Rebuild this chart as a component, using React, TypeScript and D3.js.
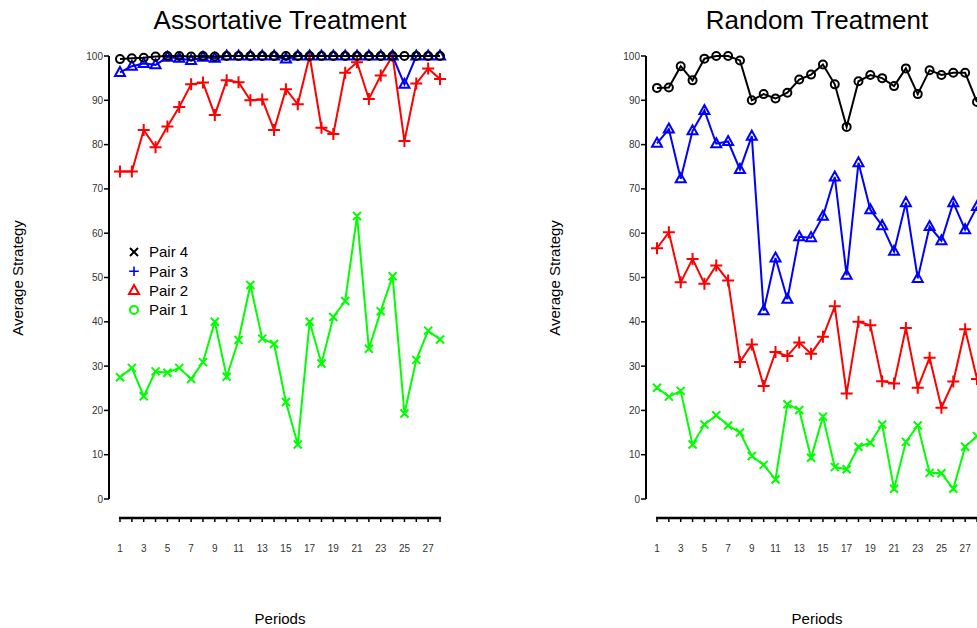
import React from "react";
import * as d3 from "d3";

// periods 1..28
const periods = d3.range(1, 29);
const xTickLabels = [1, 3, 5, 7, 9, 11, 13, 15, 17, 19, 21, 23, 25, 27];
const yTicks = [0, 10, 20, 30, 40, 50, 60, 70, 80, 90, 100];

// Assortative treatment
const assortPair4 = [99.3, 99.5, 99.6, 99.9, 100, 100, 99.9, 100, 99.9, 100, 100, 100, 100, 100, 100, 100, 100, 100, 100, 100, 100, 100, 100, 100, 100, 100, 100, 100];
const assortPair3 = [96.3, 97.7, 98.3, 98.0, 99.7, 99.5, 99.0, 99.7, 99.5, 100, 100, 100, 100, 100, 99.3, 100, 100, 100, 100, 100, 100, 100, 100, 100, 93.6, 100, 100, 100];
const assortPair2 = [73.9, 73.9, 83.3, 79.4, 84.1, 88.5, 93.6, 94.0, 86.7, 94.5, 94.1, 90.0, 90.2, 83.3, 92.5, 89.1, 100, 83.8, 82.4, 96.2, 98.6, 90.3, 95.6, 100, 80.8, 93.8, 97.2, 94.8];
const assortPair1 = [27.5, 29.6, 23.2, 28.8, 28.5, 29.6, 27.1, 30.9, 40.0, 27.6, 35.9, 48.3, 36.2, 35.0, 21.9, 12.3, 40.0, 30.6, 41.1, 44.7, 63.9, 33.9, 42.4, 50.3, 19.3, 31.4, 38.0, 36.0];

// Random treatment
const randomPair4 = [92.8, 92.9, 97.7, 94.5, 99.4, 100, 100, 99.0, 90.0, 91.4, 90.4, 91.7, 94.7, 95.8, 98.1, 93.6, 84.0, 94.3, 95.7, 95.0, 93.2, 97.2, 91.4, 96.8, 95.7, 96.2, 96.2, 89.6];
const randomPair3 = [80.3, 83.5, 72.3, 83.1, 87.7, 80.2, 80.7, 74.4, 81.9, 42.5, 54.4, 45.1, 59.2, 59.0, 63.8, 72.7, 50.5, 75.9, 65.3, 61.7, 55.9, 66.9, 49.8, 61.5, 58.3, 66.9, 60.8, 66.0];
const randomPair2 = [56.6, 60.2, 48.9, 54.2, 48.6, 52.7, 49.3, 30.9, 34.9, 25.5, 33.2, 32.3, 35.3, 32.8, 36.6, 43.5, 23.8, 40.0, 39.2, 26.6, 26.1, 38.6, 25.1, 31.9, 20.6, 26.5, 38.3, 27.1];
const randomPair1 = [25.1, 23.1, 24.4, 12.3, 16.8, 18.9, 16.6, 15.0, 9.7, 7.7, 4.4, 21.4, 20.1, 9.3, 18.6, 7.2, 6.7, 11.8, 12.7, 16.8, 2.3, 12.9, 16.6, 5.9, 5.8, 2.3, 11.8, 14.2];

const legendLabels = ["Pair 4", "Pair 3", "Pair 2", "Pair 1"];

type Shape = "circle" | "triangle" | "plus" | "times";

function marker(shape: Shape, x: number, y: number) {
  if (shape === "circle") return `M${x - 4},${y}a4,4 0 1,0 8,0a4,4 0 1,0 -8,0`;
  if (shape === "triangle") return `M${x},${y - 5.5}L${x + 5},${y + 3.5}L${x - 5},${y + 3.5}Z`;
  if (shape === "plus") return `M${x - 6},${y}H${x + 6}M${x},${y - 6}V${y + 6}`;
  return `M${x - 4},${y - 4}L${x + 4},${y + 4}M${x - 4},${y + 4}L${x + 4},${y - 4}`;
}

const series = (p4: number[], p3: number[], p2: number[], p1: number[]) => [
  { values: p1, color: "#00ff00", shape: "times" as Shape },
  { values: p2, color: "#ff0000", shape: "plus" as Shape },
  { values: p3, color: "#0000ff", shape: "triangle" as Shape },
  { values: p4, color: "#000000", shape: "circle" as Shape },
];

function Panel({ x0, title, data, legend }: { x0: number; title: string; data: ReturnType<typeof series>; legend: boolean }) {
  const x = d3.scaleLinear().domain([1, 28]).range([x0, x0 + 320]);
  const y = d3.scaleLinear().domain([0, 100]).range([499, 56]);
  const axisX = x0 - 11;
  const axisY = 518;
  const line = d3.line<number>().x((_, i) => x(periods[i])).y(d => y(d));
  const cx = x0 + 160;
  return (
    <g fontFamily="'Liberation Sans', Arial, sans-serif">
      <text x={cx} y={29} textAnchor="middle" fontSize={26}>{title}</text>
      <text transform={`translate(${x0 - 97},278) rotate(-90)`} textAnchor="middle" fontSize={15}>Average Strategy</text>
      <text x={cx} y={624} textAnchor="middle" fontSize={15}>Periods</text>
      {/* y axis */}
      <line x1={axisX} x2={axisX} y1={y(0)} y2={y(100)} stroke="#000" strokeWidth={2} />
      {yTicks.map(t => (
        <g key={t}>
          <line x1={axisX - 5} x2={axisX} y1={y(t)} y2={y(t)} stroke="#000" strokeWidth={1.5} />
          <text x={axisX - 6} y={y(t)} dy="0.35em" textAnchor="end" fontSize={10} fill="#333">{t}</text>
        </g>
      ))}
      {/* x axis */}
      <line x1={x(1) - 1} x2={x(28) + 1} y1={axisY} y2={axisY} stroke="#000" strokeWidth={2.5} />
      {periods.map(p => (
        <line key={p} x1={x(p)} x2={x(p)} y1={axisY} y2={axisY + 4} stroke="#000" strokeWidth={1.5} />
      ))}
      {xTickLabels.map(p => (
        <text key={p} x={x(p)} y={552} textAnchor="middle" fontSize={10} fill="#333">{p}</text>
      ))}
      {data.map((s, k) => (
        <g key={k}>
          <path d={line(s.values) || ""} fill="none" stroke={s.color} strokeWidth={2} />
          <path d={s.values.map((v, i) => marker(s.shape, x(periods[i]), y(v))).join("")} fill="none" stroke={s.color} strokeWidth={2} />
        </g>
      ))}
      {legend && (
        <g>
          {legendLabels.map((lbl, i) => {
            const ly = 252 + i * 19.3;
            const shapes: Shape[] = ["times", "plus", "triangle", "circle"];
            const colors = ["#000000", "#0000ff", "#ff0000", "#00ff00"];
            const sz = shapes[i] === "plus" ? 0.8 : 1;
            return (
              <g key={lbl}>
                <path transform={`translate(${x0 + 14},${ly}) scale(${sz})`} d={marker(shapes[i], 0, 0)} fill="none" stroke={colors[i]} strokeWidth={2} />
                <text x={x0 + 29} y={ly} dy="0.35em" fontSize={15}>{lbl}</text>
              </g>
            );
          })}
        </g>
      )}
    </g>
  );
}

export default function App() {
  return (
    <svg width={977} height={628} style={{ position: "fixed", left: 0, top: 0, background: "#fff" }}>
      <rect width={977} height={628} fill="#fff" />
      <Panel x0={120} title="Assortative Treatment" data={series(assortPair4, assortPair3, assortPair2, assortPair1)} legend={true} />
      <Panel x0={657} title="Random Treatment" data={series(randomPair4, randomPair3, randomPair2, randomPair1)} legend={false} />
    </svg>
  );
}
